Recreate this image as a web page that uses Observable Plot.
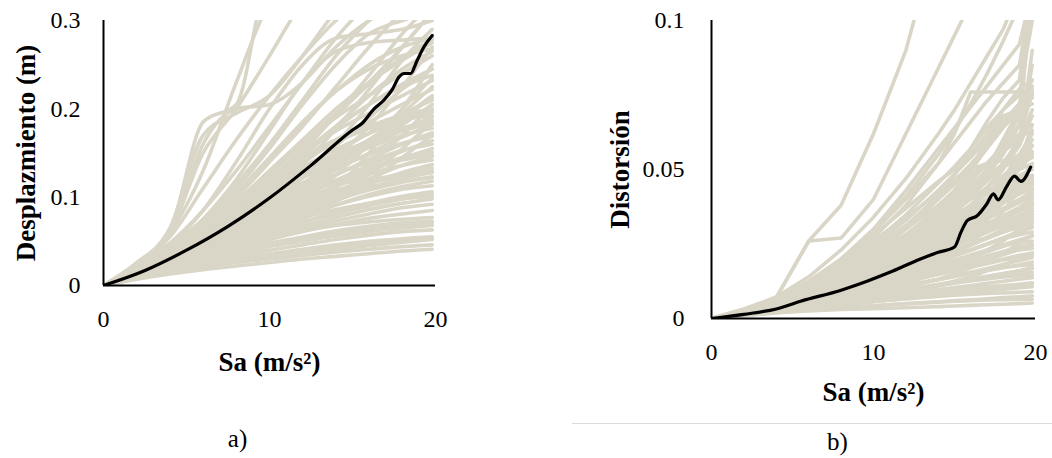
<!DOCTYPE html>
<html><head><meta charset="utf-8">
<script src="https://cdn.jsdelivr.net/npm/d3@7"></script>
<script src="https://cdn.jsdelivr.net/npm/@observablehq/plot@0.6"></script>
<style>
body{margin:0;background:#fff;}
#wrap{position:relative;width:1052px;height:458px;overflow:hidden;background:#fff;}
#pa{position:absolute;left:0;top:0;}
#pb{position:absolute;left:520px;top:0;}
#sep{position:absolute;left:572px;top:423px;width:480px;height:1px;background:#dcdcdc;}
</style></head><body>
<div id="wrap"><div id="pa"></div><div id="pb"></div><div id="sep"></div></div>
<script>
// ---------- DATA ----------
const xTicks = [0, 10, 20];
const yTicksA = [0, 0.1, 0.2, 0.3];
const yTickLabelsA = ["0", "0.1", "0.2", "0.3"];
const yTicksB = [0, 0.05, 0.1];
const yTickLabelsB = ["0", "0.05", "0.1"];

// Panel a) Desplazamiento (m) vs Sa — individual records
const saGridA = [0, 2, 4, 6, 8, 10, 12, 14, 16, 18, 19.8];
const despCurves = [
  [0,.007,.013,.018,.022,.026,.030,.033,.036,.039,.041],
  [0,.008,.015,.021,.026,.030,.034,.038,.041,.044,.046],
  [0,.009,.017,.024,.029,.033,.037,.041,.045,.049,.052],
  [0,.010,.019,.026,.032,.036,.041,.046,.050,.053,.055],
  [0,.010,.020,.029,.037,.044,.050,.056,.061,.065,.068],
  [0,.011,.021,.031,.040,.048,.055,.062,.067,.071,.073],
  [0,.012,.022,.033,.043,.052,.061,.069,.076,.081,.085],
  [0,.012,.024,.036,.047,.057,.067,.077,.086,.093,.098],
  [0,.013,.025,.038,.050,.062,.072,.083,.093,.101,.106],
  [0,.013,.026,.039,.052,.065,.078,.091,.103,.112,.118],
  [0,.014,.027,.040,.054,.068,.082,.096,.110,.121,.128],
  [0,.014,.028,.042,.057,.072,.087,.101,.115,.128,.137],
  [0,.015,.029,.044,.060,.076,.092,.107,.121,.136,.146],
  [0,.015,.030,.046,.062,.079,.096,.113,.129,.144,.155],
  [0,.016,.031,.048,.065,.083,.101,.119,.136,.152,.164],
  [0,.016,.032,.049,.068,.087,.106,.125,.143,.160,.173],
  [0,.017,.034,.052,.071,.091,.111,.131,.150,.168,.182],
  [0,.017,.035,.054,.074,.095,.116,.137,.157,.176,.191],
  [0,.018,.036,.056,.078,.100,.122,.144,.165,.185,.200],
  [0,.018,.037,.058,.081,.104,.127,.150,.173,.194,.210],
  [0,.020,.040,.060,.075,.085,.095,.105,.112,.118,.122],
  [0,.022,.045,.070,.090,.100,.108,.115,.120,.125,.128],
  [0,.012,.025,.040,.060,.085,.110,.135,.160,.190,.215],
  [0,.011,.022,.035,.050,.070,.095,.125,.160,.200,.235],
  [0,.010,.020,.030,.042,.058,.080,.110,.150,.200,.250],
  [0,.013,.027,.045,.065,.088,.115,.145,.180,.225,.270],
  [0,.016,.033,.055,.080,.110,.145,.180,.215,.245,.265],
  [0,.018,.038,.065,.095,.130,.165,.200,.230,.255,.275],
  [0,.020,.042,.070,.105,.145,.185,.220,.250,.270,.280],
  [0,.019,.040,.068,.100,.140,.180,.225,.270,.310,.340],
  [0,.021,.045,.075,.115,.160,.210,.260,.300,.330,.350],
  [0,.022,.048,.085,.130,.180,.230,.280,.320,.350,.360],
  [0,.024,.055,.110,.165,.215,.260,.300,.330,.350,.360],
  [0,.025,.060,.150,.200,.260,.320,.350,.360,.360,.360],
  [0,.026,.062,.185,.205,.350,.360,.360,.360,.360,.360],
  [0,.024,.058,.160,.200,.205,.230,.270,.300,.320,.330],
  [0,.018,.045,.085,.140,.200,.250,.280,.285,.290,.300],
  [0,.017,.040,.075,.120,.175,.230,.265,.275,.278,.280],
  [0,.015,.035,.065,.100,.140,.185,.220,.245,.260,.268],
  [0,.014,.032,.058,.090,.125,.160,.195,.230,.270,.310],
  [0,.013,.030,.055,.085,.118,.150,.175,.195,.215,.232],
  [0,.012,.028,.050,.078,.108,.138,.165,.185,.205,.222],
  [0,.016,.034,.056,.082,.112,.140,.162,.178,.190,.198],
  [0,.017,.036,.060,.088,.118,.145,.165,.180,.188,.192],
  [0,.019,.039,.062,.086,.110,.130,.148,.163,.175,.184],
  [0,.015,.031,.050,.070,.092,.113,.135,.158,.182,.205],
  [0,.011,.023,.036,.052,.070,.090,.112,.138,.170,.205],
  [0,.010,.021,.033,.047,.063,.081,.102,.126,.155,.185],
  [0,.009,.019,.030,.043,.058,.075,.095,.118,.145,.170],
  [0,.012,.026,.042,.060,.080,.100,.118,.132,.142,.148],
  [0,.014,.029,.045,.062,.078,.093,.106,.116,.124,.130],
  [0,.013,.027,.041,.055,.067,.077,.086,.093,.098,.101],
  [0,.011,.023,.035,.046,.055,.062,.068,.072,.075,.077],
  [0,.020,.043,.072,.110,.155,.205,.250,.285,.300,.310],
  [0,.018,.040,.066,.096,.128,.160,.190,.215,.240,.260],
  [0,.017,.038,.062,.090,.120,.150,.180,.205,.228,.245],
  [0,.008,.016,.023,.029,.034,.039,.043,.047,.050,.053],
  [0,.010,.019,.027,.034,.040,.046,.052,.057,.061,.063],
  [0,.011,.021,.030,.038,.046,.053,.059,.064,.068,.071],
  [0,.012,.023,.034,.045,.055,.064,.073,.081,.088,.092],
  [0,.013,.025,.037,.049,.060,.071,.081,.090,.098,.103],
  [0,.014,.027,.041,.055,.068,.080,.091,.101,.109,.113],
  [0,.015,.029,.044,.058,.071,.084,.097,.108,.117,.123],
  [0,.016,.031,.046,.061,.076,.090,.104,.117,.127,.133],
  [0,.017,.033,.049,.065,.081,.097,.112,.126,.136,.142],
  [0,.018,.035,.052,.069,.086,.103,.119,.133,.145,.151],
  [0,.018,.036,.054,.073,.092,.110,.126,.140,.153,.160],
  [0,.019,.038,.057,.077,.097,.116,.133,.148,.161,.169],
  [0,.020,.040,.060,.081,.102,.122,.140,.156,.170,.178],
  [0,.020,.041,.063,.085,.107,.128,.147,.164,.178,.187],
  [0,.021,.043,.066,.089,.112,.134,.154,.172,.187,.196],
  [0,.014,.029,.047,.068,.090,.114,.139,.165,.190,.212],
  [0,.013,.027,.044,.064,.086,.110,.136,.163,.195,.225],
  [0,.015,.032,.052,.075,.100,.128,.158,.190,.222,.245],
  [0,.017,.036,.060,.088,.120,.155,.192,.228,.258,.278],
  [0,.024,.060,.130,.230,.320,.350,.360,.360,.360,.360],
  [0,.025,.065,.170,.195,.215,.260,.310,.340,.360,.360],
  [0,.014,.031,.054,.082,.115,.152,.193,.238,.285,.320],
  [0,.012,.027,.047,.072,.102,.137,.177,.222,.270,.310],
  [0,.011,.024,.041,.063,.090,.122,.160,.205,.255,.290],
  [0,.019,.040,.064,.090,.118,.148,.178,.205,.225,.238],
  [0,.020,.042,.066,.092,.118,.142,.163,.180,.193,.200]
];
// Panel a) median
const medSaA = [0, 2.5, 5, 7.5, 10, 12.5, 15, 15.6, 16.3, 16.9, 17.4, 17.8, 18.1, 18.5, 18.9, 19.3, 19.8];
const medDespA = [0, .017, .040, .067, .099, .136, .176, .184, .200, .210, .222, .236, .240, .240, .255, .270, .283];

// Panel b) Distorsión vs Sa — individual records
const saGridB = [0, 2, 4, 6, 8, 10, 12, 14, 15, 16, 17, 18, 19, 19.8];
const distCurves = [
  [0,.001,.002,.0025,.003,.0033,.0036,.004,.0042,.0044,.0046,.0048,.005,.0052],
  [0,.001,.0022,.003,.0037,.0043,.005,.0056,.006,.0063,.0066,.007,.0073,.0076],
  [0,.0012,.0025,.0036,.0047,.0057,.0067,.0078,.0083,.0088,.0093,.0098,.0103,.0107],
  [0,.0013,.0027,.0041,.0055,.0069,.0083,.0097,.0104,.0111,.0118,.0125,.0132,.0137],
  [0,.0014,.003,.0046,.0063,.008,.0097,.0115,.0124,.0133,.0142,.0151,.016,.0167],
  [0,.0015,.0032,.005,.007,.009,.011,.013,.014,.015,.016,.017,.018,.019],
  [0,.0016,.0034,.0055,.0078,.0102,.0126,.015,.0162,.0175,.0188,.02,.0212,.022],
  [0,.0016,.0036,.0058,.0083,.011,.0138,.0166,.018,.0195,.021,.0225,.024,.025],
  [0,.0017,.0038,.0062,.009,.012,.015,.018,.0196,.0213,.023,.0247,.0264,.0276],
  [0,.0018,.004,.0066,.0096,.0128,.016,.0195,.0213,.0232,.025,.027,.029,.0305],
  [0,.0018,.0041,.007,.0102,.0136,.0172,.021,.023,.025,.027,.029,.031,.033],
  [0,.0019,.0043,.0073,.0108,.0145,.0185,.0226,.0247,.0268,.029,.031,.034,.036],
  [0,.002,.0045,.0076,.0113,.0153,.0196,.024,.0263,.0286,.031,.034,.037,.039],
  [0,.002,.0047,.008,.012,.0163,.021,.026,.028,.031,.034,.037,.040,.042],
  [0,.0021,.0049,.0084,.0126,.0173,.0223,.0276,.030,.033,.036,.039,.042,.045],
  [0,.0022,.005,.0088,.0133,.0183,.0237,.029,.032,.035,.038,.041,.044,.046],
  [0,.0015,.003,.005,.008,.012,.017,.023,.027,.032,.038,.044,.050,.055],
  [0,.0017,.0035,.006,.009,.013,.018,.024,.028,.034,.040,.047,.055,.062],
  [0,.002,.004,.007,.011,.016,.022,.029,.033,.038,.044,.050,.058,.068],
  [0,.0022,.0048,.0085,.013,.019,.026,.033,.037,.042,.048,.055,.065,.110],
  [0,.0025,.0055,.010,.016,.023,.030,.038,.043,.048,.052,.056,.060,.076],
  [0,.002,.0045,.008,.012,.017,.023,.030,.035,.041,.047,.052,.058,.090],
  [0,.0024,.0052,.009,.014,.020,.027,.036,.040,.045,.049,.051,.053,.055],
  [0,.0026,.006,.011,.018,.026,.034,.042,.046,.050,.052,.053,.054,.056],
  [0,.0023,.005,.009,.013,.018,.024,.032,.037,.043,.050,.060,.070,.078],
  [0,.0025,.0055,.011,.019,.028,.037,.046,.050,.055,.062,.070,.077,.080],
  [0,.003,.007,.026,.027,.040,.062,.084,.095,.106,.115,.120,.125,.130],
  [0,.003,.007,.026,.038,.062,.090,.130,.140,.150,.160,.170,.180,.190],
  [0,.0025,.006,.011,.018,.027,.038,.052,.062,.076,.076,.076,.076,.077],
  [0,.002,.0048,.009,.014,.021,.030,.040,.048,.057,.066,.074,.080,.110],
  [0,.0022,.005,.0095,.015,.022,.031,.040,.045,.051,.058,.066,.072,.075],
  [0,.002,.0045,.0085,.013,.019,.026,.034,.039,.044,.050,.058,.068,.110],
  [0,.0018,.004,.0075,.012,.017,.024,.031,.034,.036,.040,.046,.052,.058],
  [0,.0019,.0042,.0078,.0118,.0165,.022,.028,.032,.037,.042,.047,.050,.052],
  [0,.0016,.0036,.0064,.0098,.014,.019,.025,.029,.034,.039,.045,.052,.060],
  [0,.0014,.0032,.0056,.0086,.012,.016,.021,.024,.028,.033,.039,.046,.052],
  [0,.0012,.0028,.0048,.0074,.0105,.014,.018,.021,.025,.030,.036,.043,.048],
  [0,.0012,.0026,.0044,.0066,.009,.012,.015,.0175,.020,.023,.026,.030,.034],
  [0,.0011,.0024,.004,.006,.0082,.0106,.0132,.015,.017,.019,.022,.025,.028],
  [0,.001,.0022,.0036,.0052,.007,.009,.011,.0125,.014,.016,.018,.020,.022],
  [0,.002,.0046,.0082,.0125,.018,.025,.034,.040,.046,.052,.057,.062,.065],
  [0,.0021,.0048,.0086,.0132,.019,.026,.035,.041,.049,.058,.066,.072,.074],
  [0,.0023,.0052,.0092,.0140,.020,.027,.037,.043,.050,.057,.064,.070,.110],
  [0,.0018,.004,.0072,.011,.016,.022,.029,.033,.038,.042,.045,.047,.048],
  [0,.0017,.0037,.0066,.0102,.0145,.020,.026,.030,.034,.038,.042,.045,.047],
  [0,.0015,.0033,.006,.009,.013,.018,.023,.027,.031,.035,.039,.043,.046],
  [0,.003,.0065,.012,.020,.030,.043,.057,.064,.071,.078,.085,.092,.110],
  [0,.0028,.0062,.0115,.019,.029,.041,.055,.063,.072,.082,.093,.105,.110],
  [0,.0019,.004,.007,.0105,.015,.021,.028,.032,.037,.043,.052,.060,.085],
  [0,.0011,.0023,.0034,.0045,.0056,.0068,.0080,.0087,.0094,.0101,.0108,.0115,.012],
  [0,.0013,.0028,.0043,.0059,.0075,.0092,.0110,.0120,.0130,.0140,.0150,.0160,.017],
  [0,.0014,.0031,.0049,.0068,.0088,.0109,.0131,.0143,.0155,.0168,.0181,.0194,.0205],
  [0,.0016,.0035,.0056,.0078,.0102,.0127,.0154,.0168,.0183,.0198,.0214,.0231,.0245],
  [0,.0017,.0037,.0060,.0085,.0112,.0141,.0172,.0188,.0205,.0223,.0242,.0262,.0278],
  [0,.0018,.0040,.0065,.0093,.0124,.0157,.0192,.0210,.0229,.0249,.0270,.0292,.031],
  [0,.0019,.0042,.0069,.0100,.0134,.0170,.0209,.0229,.0250,.0272,.0295,.0319,.034],
  [0,.0020,.0044,.0073,.0106,.0143,.0183,.0226,.0248,.0271,.0295,.0320,.0346,.037],
  [0,.0021,.0046,.0077,.0112,.0152,.0196,.0243,.0267,.0292,.0318,.0345,.0373,.040],
  [0,.0022,.0048,.0080,.0118,.0160,.0207,.0258,.0284,.0311,.0339,.0368,.0398,.043],
  [0,.0023,.0050,.0084,.0124,.0169,.0218,.0272,.0300,.0329,.0359,.0390,.0422,.0455],
  [0,.0024,.0052,.0087,.0128,.0175,.0226,.0282,.0312,.0343,.0375,.0408,.0442,.047],
  [0,.0020,.0043,.0074,.0112,.0158,.0210,.0268,.0300,.0335,.0372,.0410,.0450,.048],
  [0,.0018,.0039,.0068,.0105,.0150,.0203,.0264,.0298,.0335,.0376,.0420,.0468,.051],
  [0,.0021,.0045,.0078,.0118,.0166,.0222,.0286,.0322,.0360,.0400,.0450,.0520,.065],
  [0,.0023,.0049,.0085,.0130,.0185,.0250,.0325,.0365,.0410,.0460,.0520,.0600,.070],
  [0,.0025,.0054,.0094,.0145,.0208,.0282,.0368,.0415,.0465,.0520,.0580,.0650,.075],
  [0,.0027,.0059,.0103,.0160,.0230,.0313,.0410,.0462,.0518,.0580,.0650,.0720,.080],
  [0,.0029,.0064,.0112,.0176,.0254,.0348,.0455,.0510,.0570,.0640,.0700,.0750,.100],
  [0,.0030,.0068,.0125,.0200,.0290,.0400,.0520,.0590,.0660,.0730,.0790,.0850,.110],
  [0,.0032,.0072,.0140,.0230,.0340,.0470,.0620,.0700,.0790,.0880,.0970,.110,.120],
  [0,.0026,.0058,.0100,.0150,.0210,.0280,.0360,.0420,.0500,.0600,.0680,.0700,.072],
  [0,.0024,.0055,.0095,.0142,.0198,.0265,.0345,.0390,.0440,.0500,.0560,.0610,.063],
  [0,.0022,.0050,.0090,.0138,.0195,.0262,.0340,.0382,.0426,.0470,.0510,.0550,.058],
  [0,.0020,.0046,.0083,.0128,.0182,.0246,.0320,.0360,.0400,.0440,.0480,.0520,.054],
  [0,.0019,.0044,.0079,.0122,.0174,.0235,.0305,.0343,.0382,.0420,.0455,.0480,.050],
  [0,.0025,.0057,.0104,.0165,.0240,.0330,.0430,.0485,.0540,.0600,.0660,.0700,.110],
  [0,.0009,.0019,.0028,.0036,.0043,.0049,.0055,.0058,.0060,.0062,.0063,.0064,.0065],
  [0,.0011,.0024,.0036,.0047,.0057,.0066,.0074,.0078,.0081,.0084,.0086,.0088,.009],
  [0,.0012,.0026,.0040,.0054,.0067,.0079,.0091,.0097,.0102,.0107,.0111,.0113,.0115],
  [0,.0013,.0029,.0045,.0062,.0078,.0094,.0110,.0118,.0126,.0133,.0139,.0143,.0145],
  [0,.0012,.0027,.0043,.0060,.0077,.0094,.0111,.0120,.0129,.0138,.0146,.0151,.0155],
  [0,.0014,.0031,.0050,.0070,.0090,.0111,.0132,.0143,.0154,.0164,.0172,.0177,.018],
  [0,.0015,.0033,.0054,.0076,.0099,.0123,.0148,.0160,.0172,.0184,.0196,.0204,.021],
  [0,.0016,.0035,.0057,.0081,.0107,.0134,.0162,.0177,.0192,.0207,.0221,.0230,.0235],
  [0,.0017,.0037,.0060,.0086,.0114,.0144,.0176,.0193,.0210,.0227,.0243,.0254,.026],
  [0,.0017,.0038,.0063,.0091,.0122,.0155,.0191,.0210,.0229,.0249,.0268,.0281,.029],
  [0,.0018,.0040,.0066,.0096,.0129,.0165,.0204,.0225,.0246,.0268,.0290,.0307,.032],
  [0,.0019,.0042,.0069,.0101,.0137,.0176,.0219,.0242,.0265,.0289,.0313,.0334,.035],
  [0,.0020,.0044,.0073,.0107,.0145,.0188,.0235,.0260,.0285,.0311,.0338,.0362,.038],
  [0,.0021,.0046,.0076,.0112,.0153,.0199,.0250,.0277,.0305,.0333,.0362,.0389,.041],
  [0,.0022,.0048,.0080,.0118,.0161,.0210,.0265,.0294,.0324,.0355,.0387,.0417,.044],
  [0,.0020,.0045,.0078,.0118,.0165,.0218,.0275,.0305,.0335,.0365,.0395,.0420,.0435],
  [0,.0016,.0036,.0061,.0092,.0129,.0172,.0221,.0247,.0274,.0302,.0331,.0360,.0385],
  [0,.0014,.0031,.0053,.0080,.0113,.0152,.0197,.0221,.0246,.0272,.0299,.0327,.035]
];
// Panel b) median
const medSaB = [0, 2, 4, 5.5, 8, 9.6, 11, 12.9, 14, 15, 15.4, 15.8, 16.4, 17.0, 17.4, 17.7, 18.2, 18.7, 19.1, 19.7];
const medDistB = [0, .0014, .0032, .0058, .0095, .0125, .0155, .0200, .0222, .0240, .0290, .0329, .0345, .0385, .0418, .0398, .0441, .0478, .0460, .0508];

// ---------- BUILD ----------
const FONT = '"Liberation Serif", "Times New Roman", serif';
const BEIGE = "#dad6c7";

function toRows(grid, curves) {
  const rows = [];
  curves.forEach((c, k) => c.forEach((v, i) => rows.push({sa: grid[i], v, id: k})));
  return rows;
}
function medRows(sa, v) { return sa.map((s, i) => ({sa: s, v: v[i]})); }

function panel({width, mL, mR, mB, yDomain, yTicks, yLabels, rows, med, curve, yTitle, yTitleDx, xTitleDy, tag, tagDx, tagDy, yPad}) {
  return Plot.plot({
    width, height: 458,
    marginLeft: mL, marginRight: mR, marginTop: 20, marginBottom: mB,
    style: {fontFamily: FONT, fontSize: "24px", color: "#000", background: "transparent", overflow: "visible"},
    x: {domain: [0, 20]},
    y: {domain: yDomain},
    marks: [
      Plot.line(rows, {x: "sa", y: "v", z: "id", stroke: BEIGE, strokeWidth: 3.6, curve, clip: true}),
      Plot.line(med, {x: "sa", y: "v", stroke: "#000", strokeWidth: 3.2, curve: "monotone-x", clip: true}),
      Plot.ruleX([0], {stroke: "#000", strokeWidth: 2}),
      Plot.ruleY([0], {stroke: "#000", strokeWidth: 2}),
      Plot.axisX({ticks: xTicks, tickSize: 0, tickPadding: 24, label: null, fontSize: 24}),
      Plot.axisY({ticks: yTicks, tickFormat: (d) => yLabels[yTicks.indexOf(d)], tickSize: 0, tickPadding: yPad, label: null, fontSize: 24}),
      Plot.text([yTitle], {text: (d) => d, frameAnchor: "left", textAnchor: "middle", lineAnchor: "middle", rotate: -90, dx: yTitleDx, fontSize: 27, fontWeight: "bold"}),
      Plot.text(["Sa (m/s²)"], {text: (d) => d, frameAnchor: "bottom", textAnchor: "middle", lineAnchor: "middle", dy: xTitleDy, fontSize: 27, fontWeight: "bold"}),
      Plot.text([tag], {text: (d) => d, frameAnchor: "bottom", textAnchor: "middle", lineAnchor: "middle", dx: tagDx, dy: tagDy, fontSize: 25})
    ]
  });
}

document.getElementById("pa").append(panel({
  width: 520, mL: 103, mR: 85, mB: 173,
  yDomain: [0, 0.3], yTicks: yTicksA, yLabels: yTickLabelsA, yPad: 23,
  rows: toRows(saGridA, despCurves), med: medRows(medSaA, medDespA), curve: "monotone-x",
  yTitle: "Desplazmiento (m)", yTitleDx: -77, xTitleDy: 77,
  tag: "a)", tagDx: -32, tagDy: 153
}));

document.getElementById("pb").append(panel({
  width: 532, mL: 191, mR: 17, mB: 140,
  yDomain: [0, 0.1], yTicks: yTicksB, yLabels: yTickLabelsB, yPad: 27,
  rows: toRows(saGridB, distCurves), med: medRows(medSaB, medDistB), curve: "linear",
  yTitle: "Distorsión", yTitleDx: -91, xTitleDy: 74,
  tag: "b)", tagDx: -36, tagDy: 123
}));
</script>
</body></html>
